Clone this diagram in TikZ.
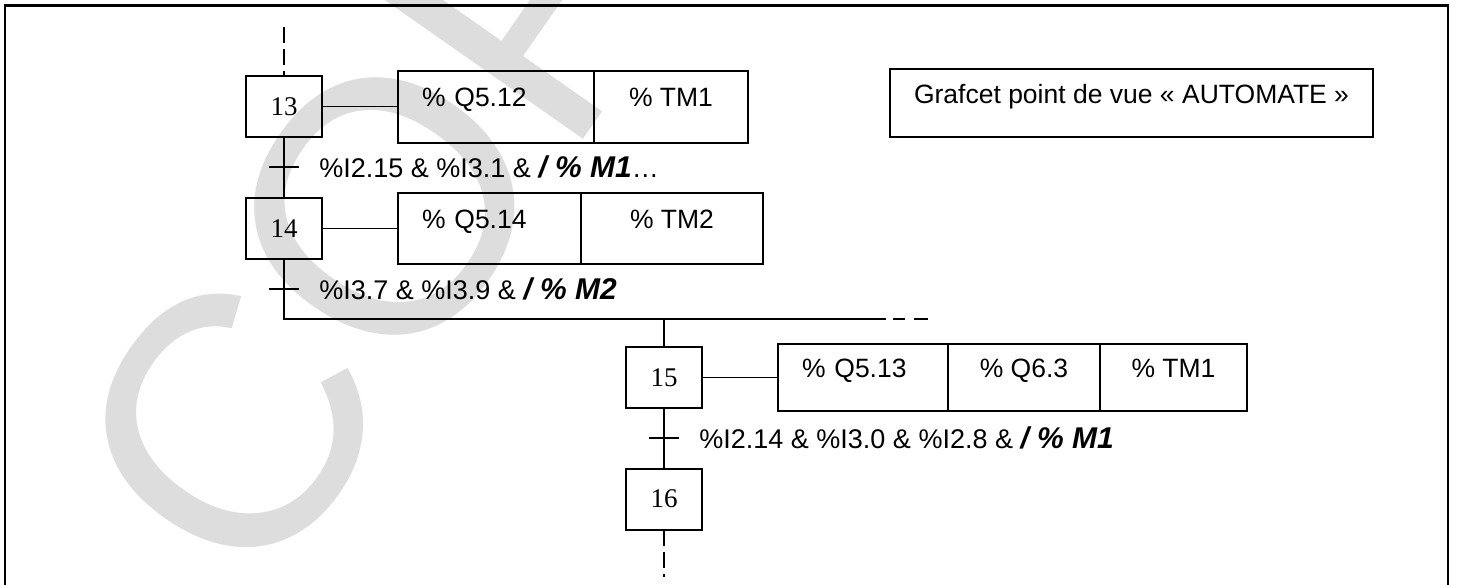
\documentclass[tikz,border=0pt]{standalone}
\usepackage{fontspec}
\setmainfont{Liberation Sans}
\newfontfamily\numfont{Liberation Serif}
\usepackage{tikz}
\usetikzlibrary{positioning}
\definecolor{wmark}{HTML}{DDDDDD}
\newcommand{\barsig}[1]{{\bfseries\itshape\fontsize{15}{18}\selectfont#1}}

\begin{document}
\begin{tikzpicture}[
  x=0.5pt,y=-0.5pt,
  node distance=38pt,
  stepbox/.style={draw,line width=1pt,outer sep=0pt,minimum width=38pt,minimum height=30.5pt,inner sep=0pt,font=\numfont\fontsize{13.5}{16}\selectfont},
  cell/.style={draw,line width=1pt,outer sep=0pt,inner sep=0pt,text height=#1,text depth=#1,font=\fontsize{13.25}{16}\selectfont},
  lcell/.style={cell=#1,inner xsep=12pt,align=left},
  bar/.style={inner sep=0pt,outer sep=0pt,minimum width=15pt,minimum height=0pt},
  cond/.style={inner sep=0pt,font=\fontsize{13.5}{16}\selectfont},
  link/.style={line width=0.8pt},
  frame/.style={line width=1.25pt},
  wm/.style={text=wmark,inner sep=0pt,anchor=base west,rotate=55,font=\fontsize{180}{180}\selectfont}
]
\useasboundingbox (0,0) rectangle (1457,585);
\node[wm] (copy) at (257,606) {COPY};
\draw[frame] (5,585) -- (5,5.5) -- (1448,5.5) -- (1448,585);
\node[stepbox] (s13) at (284,106.5) {13};
\node[lcell=18pt,text width=74pt,right=of s13] (a13a) {\% Q5.12};
\node[cell=18pt,minimum width=77pt,right=0pt of a13a] (a13b) {\% TM1};
\node[bar] (t13) at (284,167) {};
\node[cond,right=10pt of t13] (c13) {\%I2.15 \& \%I3.1 \& \barsig{/ \% M1}…};
\node[stepbox] (s14) at (284,228.5) {14};
\node[lcell=17.75pt,text width=67.5pt,right=of s14] (a14a) {\% Q5.14};
\node[cell=17.75pt,minimum width=91pt,right=0pt of a14a] (a14b) {\% TM2};
\node[bar] (t14) at (284,289) {};
\node[cond,right=10pt of t14] (c14) {\%I3.7 \& \%I3.9 \& \barsig{/ \% M2}};
\coordinate (top) at (284,27);
\coordinate (jl) at (284,319);
\coordinate (jr) at (664,319);
\coordinate (je) at (886,319);
\coordinate (jd) at (928,319);
\node[stepbox] (s15) at (664,377.5) {15};
\node[lcell=16.75pt,text width=61pt,right=of s15] (a15a) {\% Q5.13};
\node[cell=16.75pt,minimum width=76pt,right=0pt of a15a] (a15b) {\% Q6.3};
\node[cell=16.75pt,minimum width=73.5pt,right=0pt of a15b] (a15c) {\% TM1};
\node[bar] (t15) at (664,438) {};
\node[cond,right=10pt of t15] (c15) {\%I2.14 \& \%I3.0 \& \%I2.8 \& \barsig{/ \% M1}};
\node[stepbox] (s16) at (664,499) {16};
\coordinate (bot) at (664,577);
\node[cell=17pt,minimum width=241.5pt] (title) at (1131.5,103) {Grafcet point de vue « AUTOMATE »};
\draw[link,dash pattern=on 8pt off 3pt] (top) -- (s13);
\draw[link] (s13) -- (a13a);
\draw[link] (s13) -- (s14);
\draw[link] (t13.west) -- (t13.east);
\draw[link] (s14) -- (a14a);
\draw[link] (s14) -- (jl) -- (je);
\draw[link,dash pattern=on 0pt off 3.5pt on 6pt off 4.5pt on 7pt off 20pt] (je) -- (jd);
\draw[link] (t14.west) -- (t14.east);
\draw[link] (jr) -- (s15);
\draw[link] (s15) -- (a15a);
\draw[link] (s15) -- (s16);
\draw[link] (t15.west) -- (t15.east);
\draw[link,dash pattern=on 8pt off 3pt] (s16) -- (bot);
\end{tikzpicture}
\end{document}
